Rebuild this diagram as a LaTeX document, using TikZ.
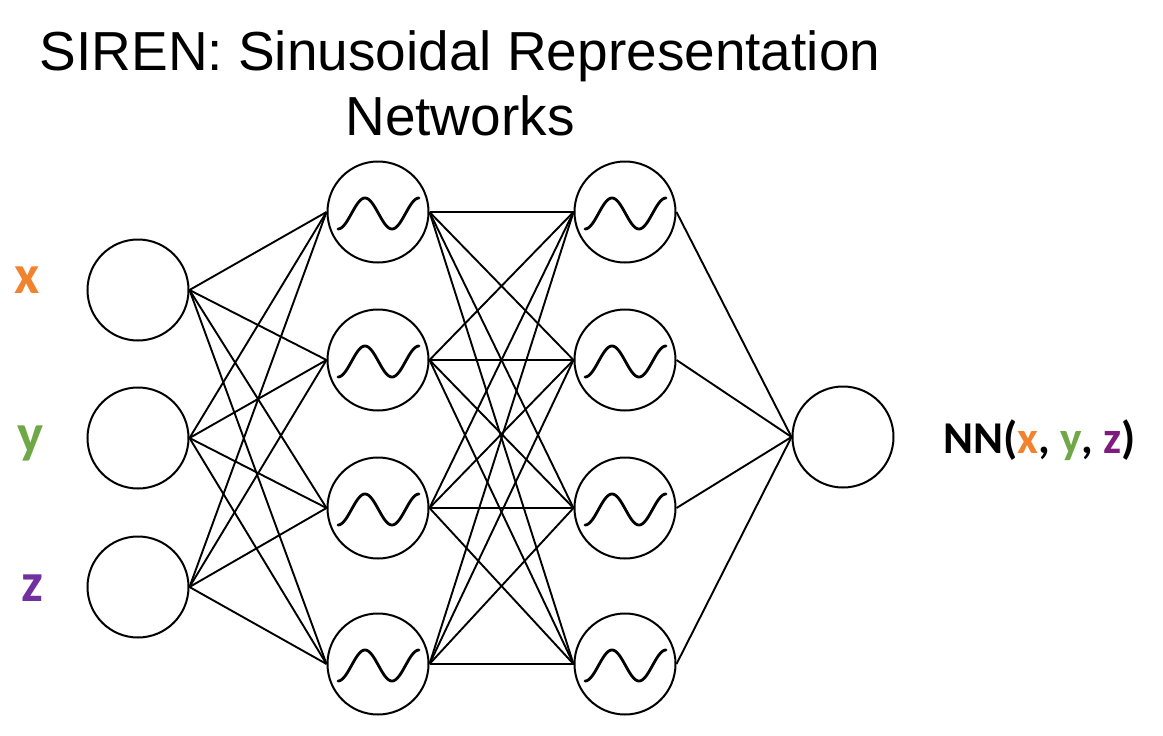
\documentclass[tikz,border=0pt]{standalone}
\usepackage{fontspec}
\setmainfont{Liberation Sans}
\newfontfamily\calib{Carlito}[BoldFont={Carlito Bold}]
\definecolor{xorange}{RGB}{241,131,46}
\definecolor{ygreen}{RGB}{112,167,71}
\definecolor{zviolet}{RGB}{112,48,160}
\definecolor{zpurple}{RGB}{125,28,125}
\tikzset{
  neuron/.style={circle,draw=black,line width=2pt,minimum size=101pt,inner sep=0pt},
  conn/.style={draw=black,line width=1.9pt},
  wave/.style={draw=black,line width=2.8pt,line cap=round},
  inlabel/.style={anchor=base,font=\calib\bfseries\fontsize{55}{60}\selectfont},
  title/.style={anchor=base,font=\fontsize{55}{60}\selectfont}
}
\begin{document}
\begin{tikzpicture}[x=1pt,y=-1pt]
\useasboundingbox (0,0) rectangle (1163,736);
% title
\node[title] (t1) at (460,70) {SIREN: Sinusoidal Representation};
\node[title] (t2) at (460,135) {Networks};
% input layer
\node[neuron] (i1) at (138,290) {};
\node[neuron] (i2) at (138,438) {};
\node[neuron] (i3) at (138,587) {};
% hidden layer 1
\node[neuron] (a1) at (378,212) {};
\node[neuron] (a2) at (378,360) {};
\node[neuron] (a3) at (378,508) {};
\node[neuron] (a4) at (378,664) {};
% hidden layer 2
\node[neuron] (b1) at (625,212) {};
\node[neuron] (b2) at (625,360) {};
\node[neuron] (b3) at (625,508) {};
\node[neuron] (b4) at (625,664) {};
% output
\node[neuron] (o) at (843,437) {};
% sine glyphs
\foreach \n in {a1,a2,a3,a4,b1,b2,b3,b4}{
  \draw[wave,shift={(\n.center)}] plot[domain=-40:41,samples=70,smooth] (\x,{1.5+15.5*cos(6.6667*(\x+40))});
}
% connections
\foreach \i in {i1,i2,i3}{
  \foreach \a in {a1,a2,a3,a4}{
    \draw[conn] (\i.east) -- (\a.west);
  }
}
\foreach \a in {a1,a2,a3,a4}{
  \foreach \b in {b1,b2,b3,b4}{
    \draw[conn] (\a.east) -- (\b.west);
  }
}
\foreach \b in {b1,b2,b3,b4}{
  \draw[conn] (\b.east) -- (o.west);
}
% labels
\node[inlabel,text=xorange] (lx) at (27,293) {x};
\node[inlabel,text=ygreen] (ly) at (31,452) {y};
\node[inlabel,text=zviolet] (lz) at (32,601) {z};
\node[anchor=base west,inner sep=0pt,font=\calib\bfseries\fontsize{45.5}{50}\selectfont] (nn) at (943,453)
  {NN(\textcolor{xorange}{x}, \textcolor{ygreen}{y}, \textcolor{zpurple}{z})};
\end{tikzpicture}
\end{document}
